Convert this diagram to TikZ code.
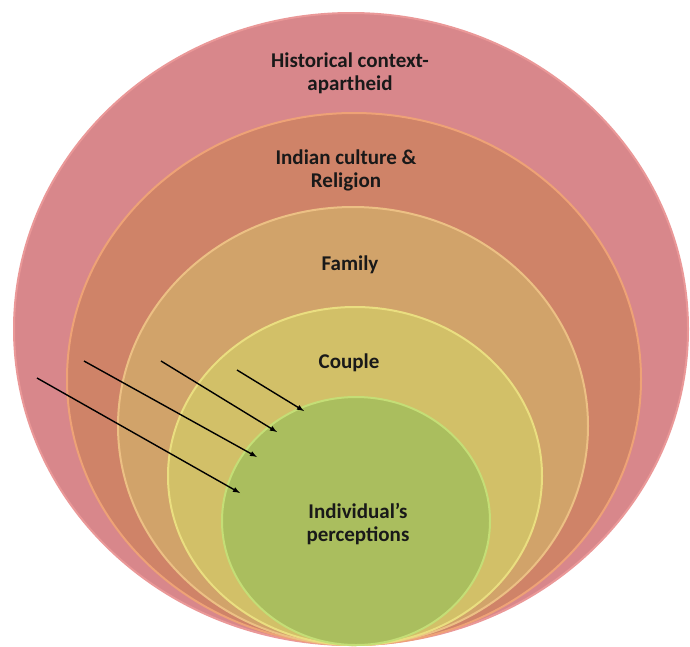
\documentclass[tikz,border=0pt]{standalone}
\usepackage{fontspec}
\setmainfont{Carlito}
\usepackage{tikz}

\definecolor{histfill}{RGB}{216,135,139}
\definecolor{histrim}{RGB}{234,152,152}
\definecolor{indfill}{RGB}{207,131,104}
\definecolor{indrim}{RGB}{238,162,118}
\definecolor{famfill}{RGB}{209,163,106}
\definecolor{famrim}{RGB}{236,192,132}
\definecolor{coupfill}{RGB}{210,192,104}
\definecolor{couprim}{RGB}{234,222,128}
\definecolor{persfill}{RGB}{170,190,94}
\definecolor{persrim}{RGB}{196,222,118}

\begin{document}
\begin{tikzpicture} [x=1pt, y=-1pt, align=center,
    lbl/.style={font=\fontsize{21}{23}\selectfont\bfseries, text=black!90},
    ring/.style={line width=2pt}]
  \useasboundingbox (0,0) rectangle (690,646);
  % nested rings, all touching at the bottom
  \filldraw [ring, fill=histfill, draw=histrim] (351,329) ellipse [x radius=337pt, y radius=316pt];
  \filldraw [ring, fill=indfill, draw=indrim] (354,379) ellipse [x radius=287pt, y radius=266pt];
  \filldraw [ring, fill=famfill, draw=famrim] (353,426) ellipse [x radius=235pt, y radius=219pt];
  \filldraw [ring, fill=coupfill, draw=couprim] (355,476) ellipse [x radius=187pt, y radius=169pt];
  \filldraw [ring, fill=persfill, draw=persrim] (356,521) ellipse [x radius=134pt, y radius=124pt];

  \path  (350,73)   node[lbl] (hist) {Historical context-\\apartheid}
         (346,170)  node[lbl] (ind)  {Indian culture \&\\Religion}
         (350,265)  node[lbl] (fam)  {Family}
         (349,363)  node[lbl] (coup) {Couple}
         (358,524)  node[lbl] (pers) {Individual's\\perceptions};

  \path  (37,378)  coordinate (s1)  (240,493) coordinate (t1)
         (84,361)  coordinate (s2)  (257,457) coordinate (t2)
         (161,361) coordinate (s3)  (277,432) coordinate (t3)
         (237,370) coordinate (s4)  (304,411) coordinate (t4);
    \draw [-latex, line width=1.4pt] (s1) to (t1);
    \draw [-latex, line width=1.4pt] (s2) to (t2);
    \draw [-latex, line width=1.4pt] (s3) to (t3);
    \draw [-latex, line width=1.4pt] (s4) to (t4);

\end{tikzpicture}
\end{document}
